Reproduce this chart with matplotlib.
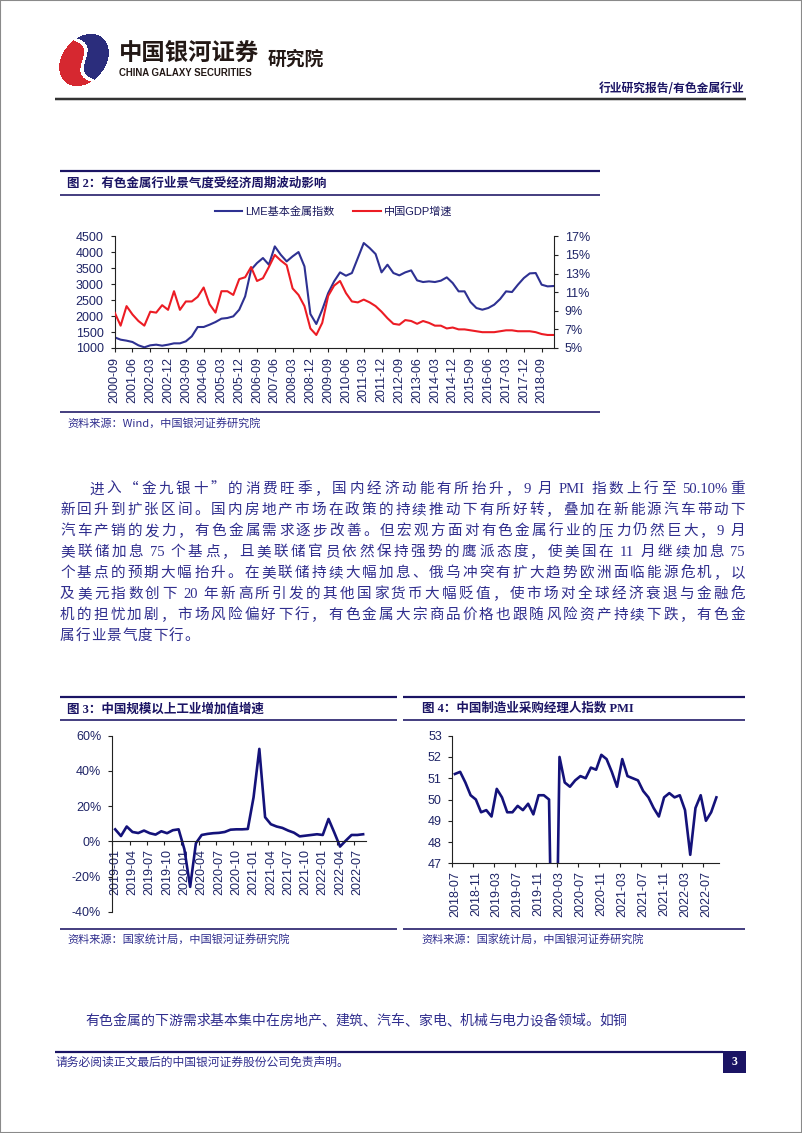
import numpy as np
import pandas as pd
import matplotlib
matplotlib.use('Agg')
import matplotlib.pyplot as plt
from matplotlib.lines import Line2D
from matplotlib.patches import Rectangle
from matplotlib.font_manager import FontProperties

plt.rcParams['font.family'] = ['Liberation Sans', 'Noto Sans CJK SC', 'DejaVu Sans']

W, H, DPI = 802, 1133, 100
CJK = ['Noto Sans CJK SC', 'DejaVu Sans']
SERIF = ['Liberation Serif', 'Noto Sans CJK SC', 'DejaVu Serif']
SANS = ['Liberation Sans', 'Noto Sans CJK SC', 'DejaVu Sans']

NAVY = '#1B1464'
TXT = '#302E8E'
BLUE = '#2E3192'
RED = '#EC1C24'
LINE = '#14127A'
TICK = '#1E2466'
AXC = '#222222'

# ---------------- data ----------------
lme_labels = [f'{p.year}-{p.quarter * 3:02d}' for p in pd.period_range('2000Q3', periods=75, freq='Q')]
lme_index = [1334, 1261, 1230, 1188, 1084, 1021, 1084, 1104, 1073, 1104,
             1146, 1146, 1209, 1365, 1658, 1658, 1731, 1814, 1919, 1940,
             1992, 2200, 2618, 3453, 3662, 3819, 3610, 4184, 3923, 3714,
             3871, 4007, 3558, 2065, 1752, 2200, 2720, 3088, 3370, 3265,
             3349, 3819, 4289, 4132, 3944, 3370, 3610, 3349, 3276, 3370,
             3432, 3119, 3067, 3088, 3067, 3109, 3213, 3036, 2775, 2775,
             2441, 2253, 2200, 2253, 2357, 2535, 2775, 2754, 2984, 3192,
             3338, 3349, 2984, 2931, 2942]
gdp_growth = [8.8, 7.4, 9.5, 8.6, 7.9, 7.4, 8.9, 8.8, 9.6, 9.1,
              11.1, 9.1, 10.0, 10.0, 10.5, 11.5, 9.7, 8.8, 11.1, 11.1,
              10.7, 12.4, 12.6, 13.7, 12.2, 12.5, 13.7, 15.0, 14.4, 13.9,
              11.4, 10.7, 9.5, 7.1, 6.4, 7.7, 10.6, 11.7, 12.2, 10.9,
              10.0, 9.9, 10.2, 9.9, 9.5, 8.9, 8.2, 7.6, 7.5, 8.0,
              7.9, 7.6, 7.9, 7.7, 7.4, 7.4, 7.1, 7.2, 7.0, 7.0,
              6.9, 6.8, 6.7, 6.7, 6.7, 6.8, 6.9, 6.9, 6.8, 6.8,
              6.8, 6.7, 6.5, 6.4, 6.4]

iva_labels = [f'{p.year}-{p.month:02d}' for p in pd.period_range('2019-01', periods=44, freq='M')]
iva_growth = [6.8, 3.0, 8.4, 5.3, 4.7, 6.1, 4.6, 3.8, 5.7, 4.6, 6.3, 6.8,
              -4.5, -25.9, -1.1, 3.6, 4.2, 4.6, 4.8, 5.3, 6.6, 6.8, 6.8, 7.0,
              25.0, 52.5, 13.7, 9.7, 8.4, 7.6, 6.1, 4.9, 2.8, 3.2, 3.6, 4.0,
              3.6, 12.7, 5.0, -3.0, 0.4, 3.6, 3.6, 4.0]

pmi_labels = [f'{p.year}-{p.month:02d}' for p in pd.period_range('2018-07', periods=51, freq='M')]
pmi_values = [51.2, 51.3, 50.8, 50.2, 50.0, 49.4,
              49.5, 49.2, 50.5, 50.1, 49.4, 49.4, 49.7, 49.5, 49.8, 49.3, 50.2, 50.2,
              50.0, 35.7, 52.0, 50.8, 50.6, 50.9, 51.1, 51.0, 51.5, 51.4, 52.1, 51.9,
              51.3, 50.6, 51.9, 51.1, 51.0, 50.9, 50.4, 50.1, 49.6, 49.2, 50.1, 50.3,
              50.1, 50.2, 49.5, 47.4, 49.6, 50.2, 49.0, 49.4, 50.1]

body_lines = [
    '进入“金九银十”的消费旺季，国内经济动能有所抬升，9 月 PMI 指数上行至 50.10%重',
    '新回升到扩张区间。国内房地产市场在政策的持续推动下有所好转，叠加在新能源汽车带动下',
    '汽车产销的发力，有色金属需求逐步改善。但宏观方面对有色金属行业的压力仍然巨大，9 月',
    '美联储加息 75 个基点，且美联储官员依然保持强势的鹰派态度，使美国在 11 月继续加息 75',
    '个基点的预期大幅抬升。在美联储持续大幅加息、俄乌冲突有扩大趋势欧洲面临能源危机，以',
    '及美元指数创下 20 年新高所引发的其他国家货币大幅贬值，使市场对全球经济衰退与金融危',
    '机的担忧加剧，市场风险偏好下行，有色金属大宗商品价格也跟随风险资产持续下跌，有色金',
    '属行业景气度下行。',
]
para2_line = '有色金属的下游需求基本集中在房地产、建筑、汽车、家电、机械与电力设备领域。如铜'

# ---------------- helpers ----------------
fig = plt.figure(figsize=(W / DPI, H / DPI), dpi=DPI)
fig.patch.set_facecolor('white')


def fx(x):
    return x / W


def fy(y):
    return 1 - y / H


def hline(x0, x1, y, lw_px, color=NAVY):
    fig.add_artist(Line2D([fx(x0), fx(x1)], [fy(y), fy(y)], transform=fig.transFigure,
                          lw=lw_px * 0.72, color=color, solid_capstyle='butt'))


def add_axes_px(l, t, r, b):
    return fig.add_axes([fx(l), fy(b), (r - l) / W, (b - t) / H])


def style_ax(ax):
    ax.set_facecolor('none')
    for s in ax.spines.values():
        s.set_color(AXC)
        s.set_linewidth(0.8)
    ax.tick_params(colors=AXC, labelcolor=TICK, labelsize=9, width=0.8, length=3, direction='out')


# page border
fig.add_artist(Rectangle((0, 0), 1, 1, transform=fig.transFigure, fill=False, ec='#8a8a8a', lw=1.5))

# ---------------- logo ----------------
lx0, ly0, lwid, lhei = 54, 30, 62, 62
yy, xx = np.mgrid[0:lhei, 0:lwid] + 0.5
X = xx + lx0
Y = yy + ly0
cx, cy = 84.0, 60.0
dx, dy = X - cx, Y - cy
pp = dx * 0.64 + dy * (-0.77)
qq = dx * 0.77 + dy * 0.64
inside = (pp / 29.0) ** 2 + (qq / 21.5) ** 2 <= 1
tw = dx * 0.45 + dy * 0.89
tn = dx * (-0.89) + dy * 0.45
S = 7.0 * np.sin(np.pi * tw / 24.0)
img = np.ones((lhei, lwid, 4))
img[..., 3] = 0
red_m = inside & (tn > S + 2.0)
navy_m = inside & (tn < S - 2.0)
img[red_m] = [0.84, 0.16, 0.19, 1]
img[navy_m] = [0.17, 0.18, 0.49, 1]
fig.figimage(img, xo=lx0, yo=H - ly0 - lhei, origin='upper', zorder=5)

# ---------------- header ----------------
fig.text(fx(119), fy(52.5), '中国银河证券', fontsize=16.8, fontweight='bold', family=CJK,
         color='#231815', va='center', ha='left')
fig.text(fx(119), fy(72.7), 'CHINA GALAXY SECURITIES', fontsize=6.9, fontweight='bold',
         family=SANS, color='#231815', va='center', ha='left')
fig.text(fx(268), fy(59.7), '研究院', fontsize=13.5, fontweight='bold', family=CJK,
         color='#231815', va='center', ha='left')
fig.text(fx(744), fy(89), '行业研究报告/有色金属行业', fontsize=8.5, fontweight='bold',
         family=CJK, color=NAVY, va='center', ha='right')
hline(55, 746, 98.7, 2.5, '#333333')

# ---------------- chart 2 ----------------
hline(60, 600, 171, 2.2)
fig.text(fx(67), fy(183.3), '图 2：有色金属行业景气度受经济周期波动影响', fontsize=9, fontweight='bold',
         family=SERIF, color=NAVY, va='center', ha='left')
hline(60, 600, 194.5, 1.6)
hline(60, 600, 412.3, 1.6)
fig.text(fx(67), fy(423), '资料来源：Wind，中国银河证券研究院', fontsize=8, family=CJK,
         color=TXT, va='center', ha='left', style='italic')

ax2 = add_axes_px(114.7, 236.3, 553.5, 348)
style_ax(ax2)
x2 = np.arange(len(lme_index))
l1, = ax2.plot(x2, lme_index, color=BLUE, lw=1.5)
ax2.set_xlim(0, len(lme_index) - 1)
ax2.set_ylim(1000, 4500)
ax2.set_yticks(np.arange(1000, 4501, 500))
ax2.set_xticks(x2[::3])
ax2.set_xticklabels(lme_labels[::3], rotation=90)
ax2.tick_params(axis='x', pad=3.5)
ax2.tick_params(axis='y', pad=5)
ax2.spines['top'].set_visible(False)
ax2.spines['right'].set_visible(False)
ax2r = ax2.twinx()
style_ax(ax2r)
l2, = ax2r.plot(x2, gdp_growth, color=RED, lw=1.5)
ax2r.set_ylim(5, 17)
ax2r.set_yticks(np.arange(5, 18, 2))
ax2r.set_yticklabels([f'{v}%' for v in range(5, 18, 2)])
ax2r.tick_params(axis='y', pad=5)
for s in ['top', 'left', 'bottom']:
    ax2r.spines[s].set_visible(False)
ax2.legend([l1, l2], ['LME基本金属指数', '中国GDP增速'], loc='center',
           bbox_to_anchor=(fx(333.5), fy(211.7)), bbox_transform=fig.transFigure,
           ncol=2, frameon=False, prop=FontProperties(family=SANS, size=8),
           handlelength=2.5, handletextpad=0.25, columnspacing=1.7, labelcolor='#1B1A5E')

# ---------------- chart 3 ----------------
hline(60, 397, 697, 2.2)
fig.text(fx(67), fy(709), '图 3：中国规模以上工业增加值增速', fontsize=9, fontweight='bold',
         family=SERIF, color=NAVY, va='center', ha='left')
hline(60, 397, 719.5, 1.6)
hline(60, 397, 929.3, 1.6)
fig.text(fx(67), fy(939.3), '资料来源：国家统计局，中国银河证券研究院', fontsize=8, family=CJK,
         color=TXT, va='center', ha='left')

ax3 = add_axes_px(112.3, 735.7, 366, 911.7)
style_ax(ax3)
x3 = np.arange(len(iva_growth))
ax3.plot(x3, iva_growth, color=LINE, lw=1.9)
ax3.set_xlim(-0.5, len(iva_growth) - 0.5)
ax3.set_ylim(-40, 60)
ax3.spines['top'].set_visible(False)
ax3.spines['right'].set_visible(False)
ax3.spines['bottom'].set_position(('data', 0))
ax3.set_yticks([-40, -20, 0, 20, 40, 60])
ax3.set_yticklabels([f'{v}%' for v in [-40, -20, 0, 20, 40, 60]])
ax3.tick_params(axis='y', pad=5)
ax3.set_xticks(x3[::3])
ax3.set_xticklabels(iva_labels[::3], rotation=90)
ax3.set_xticks(np.arange(-0.5, len(iva_growth), 3), minor=True)
ax3.tick_params(axis='x', which='major', length=0, pad=5.5)
ax3.tick_params(axis='x', which='minor', length=3, direction='out', color=AXC, width=0.8)

# ---------------- chart 4 ----------------
hline(403, 745, 697, 2.2)
fig.text(fx(421.7), fy(709), '图 4：中国制造业采购经理人指数 PMI', fontsize=9, fontweight='bold',
         family=SERIF, color=NAVY, va='center', ha='left')
hline(403, 745, 719.5, 1.6)
hline(403, 745, 929.3, 1.6)
fig.text(fx(421.7), fy(939.3), '资料来源：国家统计局，中国银河证券研究院', fontsize=8, family=CJK,
         color=TXT, va='center', ha='left')

ax4 = add_axes_px(452.3, 735.7, 719, 863.3)
style_ax(ax4)
x4 = np.arange(len(pmi_values))
ax4.plot(x4, pmi_values, color=LINE, lw=1.9)
ax4.set_xlim(-0.5, len(pmi_values) - 0.5)
ax4.set_ylim(47, 53)
ax4.spines['top'].set_visible(False)
ax4.spines['right'].set_visible(False)
ax4.set_yticks(np.arange(47, 54, 1))
ax4.tick_params(axis='y', pad=4.5)
ax4.set_xticks(x4[::4])
ax4.set_xticklabels(pmi_labels[::4], rotation=90)
ax4.set_xticks(np.arange(-0.5, len(pmi_values), 4), minor=True)
ax4.tick_params(axis='x', which='major', length=0, pad=5.5)
ax4.tick_params(axis='x', which='minor', length=3, direction='out', color=AXC, width=0.8)

# ---------------- body text ----------------
renderer = fig.canvas.get_renderer()
BODY_SIZE = 10.5
SPACE_PX = 4.0


def split_tokens(s):
    toks = []
    buf = ''
    gap = 0.0
    for ch in s:
        if ch == ' ':
            if buf:
                toks.append((buf, gap, True))
                buf = ''
                gap = 0.0
            gap += SPACE_PX
        elif ord(ch) < 128:
            buf += ch
        else:
            if buf:
                toks.append((buf, gap, True))
                buf = ''
                gap = 0.0
            toks.append((ch, gap, False))
            gap = 0.0
    if buf:
        toks.append((buf, gap, True))
    return toks


def body_line(s, x0, x1, y, justify, extra_nat=0.0, size=BODY_SIZE, color=TXT):
    em = size * DPI / 72.0
    items = []
    for t, g, is_ascii in split_tokens(s):
        if is_ascii:
            tx = fig.text(0, 0, t, fontsize=size, family=SERIF, color=color, ha='left', va='baseline')
            w = tx.get_window_extent(renderer).width
        else:
            tx = fig.text(0, 0, t, fontsize=size, family=CJK, color=color, ha='left', va='baseline')
            w = em
        items.append((tx, w, g))
    total = sum(w + g for _, w, g in items)
    if justify and len(items) > 1:
        extra = (x1 - x0 - total) / (len(items) - 1)
    else:
        extra = extra_nat
    x = x0
    base = y + 0.36 * em
    for tx, w, g in items:
        x += g
        tx.set_position((fx(x), fy(base)))
        x += w + extra


line_y0 = 488.0
line_dy = 20.9
for i, s in enumerate(body_lines):
    x0 = 89 if i == 0 else 60
    last = (i == len(body_lines) - 1)
    body_line(s, x0, 745, line_y0 + i * line_dy, justify=not last, extra_nat=1.0)

body_line(para2_line, 85, 604, 1020, justify=False, extra_nat=0.0, size=10)

# ---------------- footer ----------------
hline(55, 723, 1051.5, 2.2)
fig.add_artist(Rectangle((fx(723), fy(1073.3)), (746 - 723) / W, (1073.3 - 1050.5) / H,
                         transform=fig.transFigure, fc=NAVY, ec='none'))
fig.text(fx(734.5), fy(1062), '3', fontsize=8.5, fontweight='bold', family=SERIF,
         color='white', ha='center', va='center')
fig.text(fx(56), fy(1062), '请务必阅读正文最后的中国银河证券股份公司免责声明。', fontsize=8.5,
         family=CJK, color=TXT, ha='left', va='center')

fig.savefig('out.png', dpi=DPI, facecolor='white')
